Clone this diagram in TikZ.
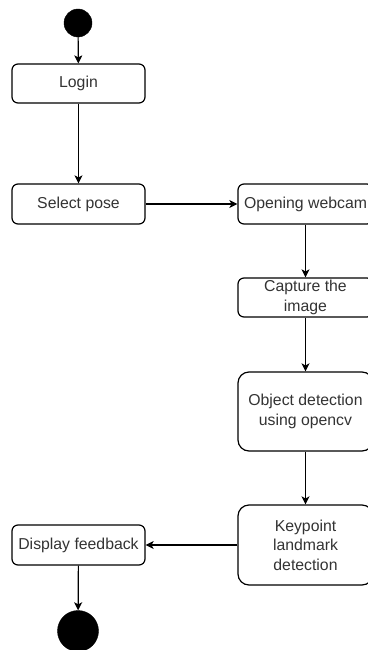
\documentclass[tikz,border=0pt]{standalone}
\usepackage{fontspec}
\setmainfont{Liberation Sans}
\usetikzlibrary{arrows.meta}
\definecolor{txt}{HTML}{333333}
\begin{document}
\begin{tikzpicture}[x=1pt,y=-1pt,
  act/.style={draw=black, line width=1.2pt, rounded corners=6pt, fill=white,
    align=center, text=txt, inner sep=1pt,
    font=\fontsize{15.8}{19.5}\selectfont},
  tall/.style={act, rounded corners=11pt},
  dot/.style={circle, fill=black, draw=black, inner sep=0pt},
  flow/.style={draw=black, line width=1.2pt, -{Stealth[length=8pt,width=8pt,inset=2pt]}}
]
\useasboundingbox (0,0) rectangle (367,650);
\node[dot, minimum size=28pt] (start) at (78,23) {};
\node[act, minimum width=133pt, minimum height=39pt] (login) at (78.5,83.5) {Login};
\node[act, minimum width=133pt, minimum height=40pt] (select) at (78.5,204) {Select pose};
\node[act, minimum width=135pt, minimum height=40pt] (webcam) at (305.5,204) {Opening webcam};
\node[act, minimum width=135pt, minimum height=39pt] (capture) at (305.5,297.5) {Capture the\\image};
\node[tall, minimum width=135pt, minimum height=79pt] (object) at (305.5,411.5) {Object detection\\using opencv};
\node[tall, minimum width=135pt, minimum height=80pt] (keypoint) at (305.5,545) {Keypoint\\landmark\\detection};
\node[act, minimum width=133pt, minimum height=40pt] (display) at (78.5,545) {Display feedback};
\node[dot, minimum size=41pt] (end) at (78,631) {};
\draw[flow] (start) -- (login);
\draw[flow] (login) -- (select);
\draw[flow] (select) -- (webcam);
\draw[flow] (webcam) -- (capture);
\draw[flow] (capture) -- (object);
\draw[flow] (object) -- (keypoint);
\draw[flow] (keypoint) -- (display);
\draw[flow] (display) -- (end);
\end{tikzpicture}
\end{document}
